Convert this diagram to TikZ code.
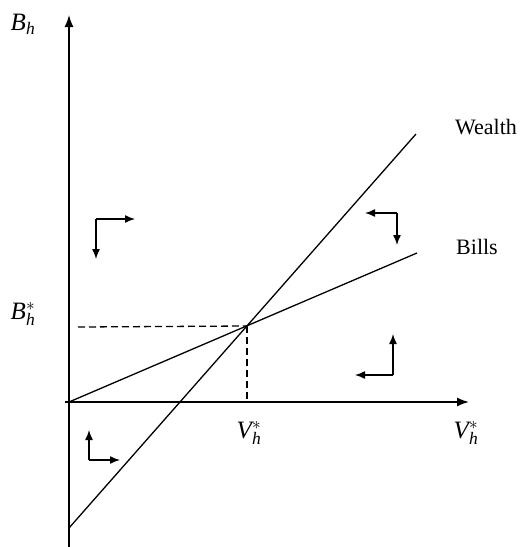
\documentclass[tikz,border=0pt]{standalone}
\usepackage{fontspec}
\setmainfont{Liberation Serif}
\usetikzlibrary{arrows.meta}
\newcommand{\varstar}[1]{$\mathit{#1}^{\mathrm{*}}_{\mathit{h}}$}
\begin{document}
\begin{tikzpicture}[x=1pt,y=-1pt,
  axis/.style={line width=1.5pt,-{Latex[length=12pt,width=9pt]}},
  curve/.style={line width=1.3pt},
  guide/.style={line width=1.3pt,dash pattern=on 7pt off 4pt},
  small/.style={line width=1.4pt,-{Latex[length=10pt,width=8pt]}},
  lab/.style={font=\fontsize{22}{26}\selectfont,inner sep=0pt},
  mlab/.style={font=\fontsize{25}{29}\selectfont,inner sep=0pt}]
\useasboundingbox (0,0) rectangle (521,547);
% axis points
\coordinate (O) at (69,402);
\coordinate (ytop) at (69,15);
\coordinate (ybot) at (69,547);
\coordinate (xstart) at (65,402);
\coordinate (xend) at (469,402);
% lines
\coordinate (W0) at (69,528);
\coordinate (W1) at (416,134);
\coordinate (B1) at (417,253);
\coordinate (E) at (247,326);
\coordinate (Dl) at (78,327);
\coordinate (Vt) at (247,402);
% axes
\draw[axis] (ybot) -- (ytop);
\draw[axis] (xstart) -- (xend);
% curves
\draw[curve] (W0) -- (W1);
\draw[curve] (O) -- (B1);
\draw[guide] (Dl) -- (E);
\draw[guide] (E) -- (Vt);
% labels
\node[mlab] (lBh) at (23,24) {$\mathit{B}_{\mathit{h}}$};
\node[mlab] (lBs) at (23,314) {\varstar{B}};
\node[mlab] (lVs) at (249,433) {\varstar{V}};
\node[mlab] (lVr) at (466,433) {\varstar{V}};
\node[lab] (lW) at (486,127) {Wealth};
\node[lab] (lB) at (477,247) {Bills};
% small direction arrows
\coordinate (c1) at (96,219);
\coordinate (c1r) at (135,219);
\coordinate (c1d) at (96,259);
\draw[small] (c1) -- (c1r);
\draw[small] (c1) -- (c1d);
\coordinate (c2) at (397,213);
\coordinate (c2l) at (365,213);
\coordinate (c2d) at (397,245);
\draw[small] (c2) -- (c2l);
\draw[small] (c2) -- (c2d);
\coordinate (c3) at (393,375);
\coordinate (c3l) at (355,375);
\coordinate (c3u) at (393,334);
\draw[small] (c3) -- (c3l);
\draw[small] (c3) -- (c3u);
\coordinate (c4) at (89,460);
\coordinate (c4u) at (89,430);
\coordinate (c4r) at (120,460);
\draw[small] (c4) -- (c4u);
\draw[small] (c4) -- (c4r);
\end{tikzpicture}
\end{document}
